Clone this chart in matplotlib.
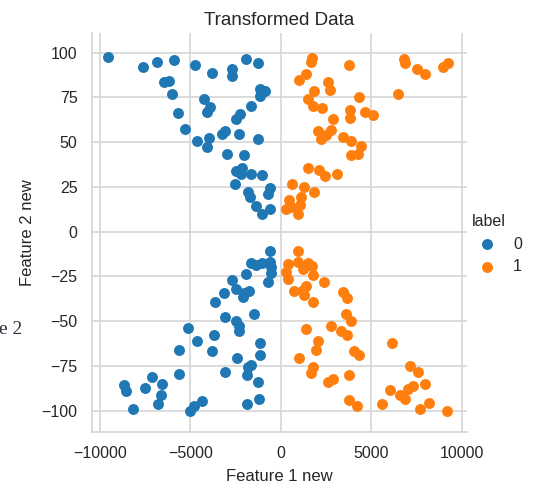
import matplotlib
matplotlib.use("Agg")
import matplotlib.pyplot as plt
import seaborn as sns

# (feature 1, feature 2) pairs for each class
label0_upper = [
    (-9560, 97.6), (-7610, 91.9), (-6870, 94.7), (-5930, 95.7), (-4740, 92.9),
    (-3800, 88.5), (-2690, 91.0), (-2690, 87.2), (-1940, 96.6), (-1260, 94.0),
    (-6440, 83.5), (-6170, 84.4), (-6040, 76.9), (-5670, 66.5), (-5300, 57.3),
    (-4260, 74.1), (-3910, 69.4), (-4090, 67.1), (-4650, 50.6), (-4000, 52.4),
    (-4090, 47.4), (-3240, 54.3), (-3110, 56.2), (-2960, 43.6), (-2460, 62.8),
    (-2280, 65.8), (-2320, 54.3), (-2060, 42.7), (-1670, 70.3), (-1260, 51.5),
    (-1130, 79.7), (-890, 78.4), (-1170, 75.6), (-2460, 33.6), (-2130, 35.5),
    (-1670, 32.3), (-1020, 31.4), (-2560, 26.7), (-1820, 22.0), (-1720, 19.2),
    (-610, 24.2), (-700, 21.0), (-1350, 14.5), (-610, 12.6), (-1020, 9.8),
    (-2190, 32.0),
]
label0_lower = [
    (-610, -10.6), (-1670, -17.5), (-1350, -18.6), (-1070, -17.5), (-610, -17.1),
    (-520, -19.9), (-520, -23.1), (-700, -28.3), (-1940, -23.6), (-2690, -26.8),
    (-2460, -32.0), (-3150, -34.3), (-2060, -34.3), (-1740, -33.3), (-2110, -36.7),
    (-3650, -39.5), (-3070, -47.5), (-1500, -46.0), (-2460, -49.7), (-2320, -53.0),
    (-2320, -55.8), (-5110, -53.8), (-4650, -61.2), (-3720, -57.7), (-5610, -65.9),
    (-3820, -66.8), (-1170, -62.2), (-1170, -68.9), (-2410, -70.5), (-3070, -78.2),
    (-1820, -75.8), (-1630, -74.8), (-1850, -79.9), (-1260, -84.1), (-1200, -93.4),
    (-1850, -96.6), (-5650, -79.5), (-7130, -81.3), (-6570, -85.4), (-6630, -91.2),
    (-6780, -96.2), (-7520, -87.5), (-8670, -86.0), (-8570, -89.2), (-8200, -99.0),
    (-5020, -100.0), (-4830, -97.7), (-4350, -94.4),
]
label1_upper = [
    (1700, 97.2), (1660, 94.7), (3780, 93.0), (6830, 96.2), (6860, 94.0),
    (7510, 91.0), (7970, 88.2), (8950, 92.1), (9260, 94.0), (1020, 84.6),
    (1380, 87.8), (2580, 83.5), (2710, 79.3), (1850, 78.8), (1480, 74.1),
    (1790, 70.3), (2250, 69.0), (4340, 75.0), (6460, 77.1), (3820, 67.7),
    (3820, 63.3), (4670, 66.7), (5110, 65.2), (2900, 62.8), (2030, 56.4),
    (2770, 56.8), (2210, 51.5), (2490, 54.0), (3410, 53.0), (3880, 50.8),
    (4430, 47.7), (3880, 42.7), (4280, 43.6), (1480, 35.7), (2120, 34.2),
    (2440, 30.8), (3080, 32.3), (610, 26.7), (1290, 24.8), (1850, 22.0),
    (1140, 19.5), (460, 17.7), (280, 12.6), (1070, 15.0), (920, 9.8),
    (550, 14.0),
]
label1_lower = [
    (920, -10.6), (370, -18.0), (920, -17.1), (1480, -17.5), (1700, -19.0),
    (1240, -20.8), (280, -22.7), (370, -26.4), (1750, -24.2), (2400, -28.3),
    (740, -33.3), (1200, -32.6), (1380, -30.2), (1290, -35.2), (1750, -39.5),
    (3410, -33.9), (3640, -37.2), (3600, -46.0), (3880, -49.7), (1380, -54.7),
    (2770, -52.9), (3320, -55.8), (3650, -57.7), (2030, -61.2), (1940, -66.1),
    (4060, -66.8), (4340, -68.7), (6130, -62.4), (1020, -70.5), (1750, -75.8),
    (1660, -79.1), (2580, -84.1), (2860, -82.3), (3780, -79.9), (3780, -94.0),
    (4190, -97.7), (5570, -96.6), (6030, -88.4), (6610, -91.2), (6860, -93.4),
    (7010, -87.8), (7290, -86.4), (7160, -75.2), (7570, -78.5), (7970, -85.4),
    (7690, -99.0), (8210, -95.9), (9170, -100.0),
]

labels = ["0", "1"]
colors = ["#1f77b4", "#ff7f0e"]
x_ticks = [-10000, -5000, 0, 5000, 10000]
y_ticks = [-100, -75, -50, -25, 0, 25, 50, 75, 100]

sns.set_style("whitegrid")
plt.rcParams["font.family"] = ["Liberation Sans", "DejaVu Sans"]
plt.rcParams["axes.unicode_minus"] = True

fig = plt.figure(figsize=(5.46, 4.83), dpi=100)
ax = fig.add_axes([0.1676, 0.1056, 0.6877, 0.8261])

groups = [label0_upper + label0_lower, label1_upper + label1_lower]
for name, color, pts in zip(labels, colors, groups):
    xs = [p[0] for p in pts]
    ys = [p[1] for p in pts]
    ax.scatter(xs, ys, s=62, color=color, linewidths=0, label=name, zorder=3)

ax.set_xlim(-10470, 10290)
ax.set_ylim(-112, 111)
ax.set_xticks(x_ticks)
ax.set_yticks(y_ticks)
ax.tick_params(labelsize=11.5, colors="#262626", length=0, pad=10)
ax.grid(True, color="#d5d5d5", linewidth=1.2)
for side in ["top", "right"]:
    ax.spines[side].set_visible(False)
for side in ["left", "bottom"]:
    ax.spines[side].set_color("#d5d5d5")
    ax.spines[side].set_linewidth(1.2)

ax.set_title("Transformed Data", fontsize=13.5, color="#262626", pad=6)
ax.set_xlabel("Feature 1 new", fontsize=12, color="#262626", labelpad=6)
ax.set_ylabel("Feature 2 new", fontsize=12, color="#262626", labelpad=5)

leg = fig.legend(
    loc="upper left", bbox_to_anchor=(0.837, 0.586), frameon=False,
    title="label", fontsize=11.5, title_fontsize=11.5, handletextpad=0.6,
    labelspacing=0.45,
)
leg._legend_box.align = "left"

# leftover caption fragment on the left margin
fig.text(-0.002, 0.317, "e 2", fontsize=14, family="Liberation Serif",
         color="#2f3640", ha="left", va="center")

fig.savefig("out.png", dpi=100)
